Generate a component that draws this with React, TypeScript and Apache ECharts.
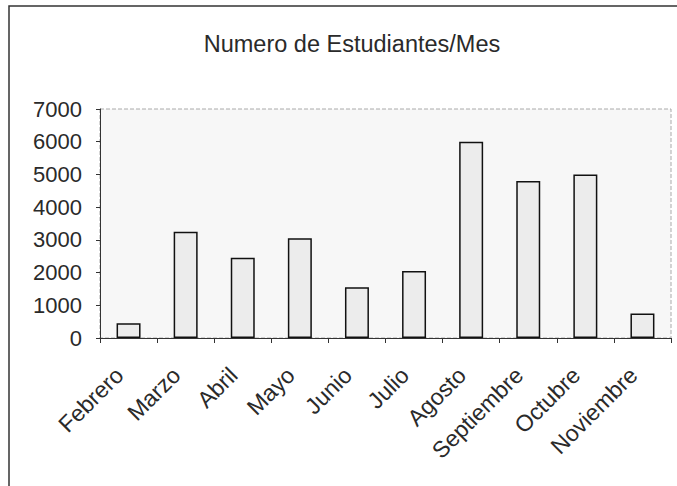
import React, { useEffect, useRef } from "react";
import * as echarts from "echarts";

const months = ["Febrero", "Marzo", "Abril", "Mayo", "Junio", "Julio", "Agosto", "Septiembre", "Octubre", "Noviembre"];
const students = [450, 3250, 2450, 3050, 1550, 2050, 6000, 4800, 5000, 750];
const chartTitle = "Numero de Estudiantes/Mes";

export default function App() {
  const ref = useRef<HTMLDivElement>(null);
  useEffect(() => {
    if (!ref.current) return;
    const chart = echarts.init(ref.current, null, { renderer: "svg" });
    const font = "Liberation Sans, Arial, sans-serif";
    chart.setOption({
      animation: false,
      backgroundColor: "#ffffff",
      textStyle: { fontFamily: font },
      title: {
        text: chartTitle,
        left: 347,
        textAlign: "center",
        top: 27,
        textStyle: { fontFamily: font, fontSize: 23.5, fontWeight: "normal", color: "#2a2a2a" },
      },
      graphic: [
        {
          type: "rect",
          shape: { x: 9, y: 6, width: 720, height: 520 },
          style: { fill: "none", stroke: "#333", lineWidth: 1.5 },
          silent: true,
          z: -1,
        },
      ],
      grid: {
        left: 100,
        right: 6,
        top: 109,
        bottom: 148,
        show: true,
        backgroundColor: "#f7f7f7",
        borderColor: "#aaa",
        borderWidth: 1,
        borderType: "dashed",
      },
      xAxis: {
        type: "category",
        data: months,
        boundaryGap: true,
        axisLine: { show: true, lineStyle: { color: "#333", width: 1 } },
        axisTick: { show: true, alignWithLabel: false, length: 5, lineStyle: { color: "#333" } },
        axisLabel: {
          rotate: 45,
          margin: 24,
          padding: [0, 13, 0, 0],
          fontSize: 23,
          color: "#2a2a2a",
          fontFamily: font,
          interval: 0,
        },
        splitLine: { show: false },
      },
      yAxis: {
        type: "value",
        min: 0,
        max: 7000,
        interval: 1000,
        axisLine: { show: true, lineStyle: { color: "#333", width: 1 } },
        axisTick: { show: true, length: 4, lineStyle: { color: "#333" } },
        axisLabel: {
          margin: 18,
          fontSize: 22,
          color: "#2a2a2a",
          fontFamily: font,
          formatter: (v: number) => String(v),
        },
        splitLine: { show: false },
      },
      series: [
        {
          type: "bar",
          data: students,
          barWidth: "42%",
          itemStyle: { color: "#ececec", borderColor: "#111", borderWidth: 1.5 },
        },
      ],
    });
    return () => chart.dispose();
  }, []);
  return <div ref={ref} style={{ width: 677, height: 486, position: "absolute", left: 0, top: 0 }} />;
}
